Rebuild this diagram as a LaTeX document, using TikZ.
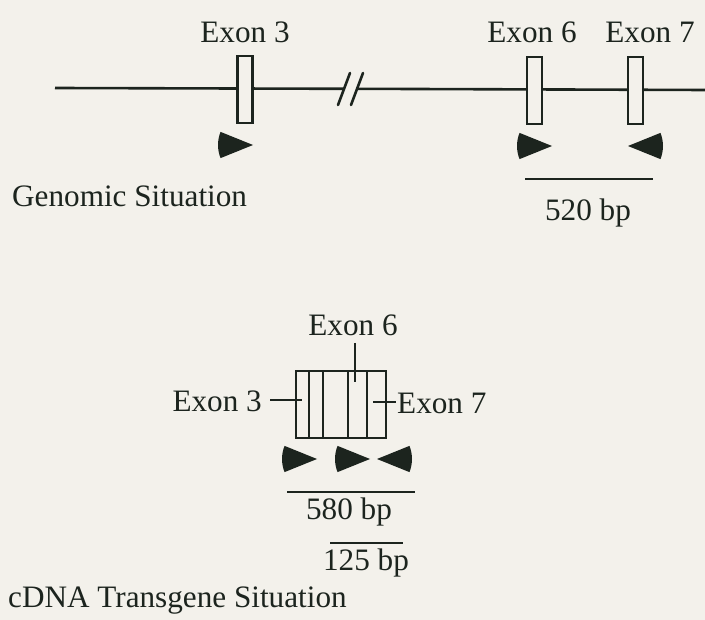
\documentclass[tikz,border=0pt]{standalone}
\usepackage{fontspec}
\setmainfont{Liberation Serif}
\definecolor{inkc}{RGB}{28,36,30}
\definecolor{paper}{RGB}{243,241,235}
\begin{document}
\begin{tikzpicture}[x=1pt,y=-1pt,
  dna/.style={draw=inkc,line width=2.6pt},
  exonbox/.style={draw=inkc,line width=2.4pt,fill=paper,minimum width=15pt,minimum height=67pt,inner sep=0pt},
  lbl/.style={text=inkc,font=\fontsize{31.2}{35}\selectfont,inner sep=0pt},
  primer/.pic={\fill[inkc] (0,0) -- (158:35) arc[start angle=158,end angle=202,radius=35] -- cycle;}
]
\useasboundingbox[fill=paper] (0,0) rectangle (705,620);
% genomic line
\coordinate (gL) at (55,88);
\coordinate (b1) at (344,88.8);
\coordinate (b2) at (356,88.8);
\coordinate (gR) at (705,90);
\draw[dna] (gL) -- (b1);
\draw[dna] (b2) -- (gR);
\draw[dna,line cap=round] (338,105) -- (350,73);
\draw[dna,line cap=round] (351,105) -- (363,73);
% exon boxes
\node[exonbox] (e3) at (245,89.5) {};
\node[exonbox] (e6) at (534.5,90.5) {};
\node[exonbox] (e7) at (635.5,90.5) {};
% labels
\node[lbl] (le3) at (245,32) {Exon 3};
\node[lbl] (le6) at (532,32) {Exon 6};
\node[lbl] (le7) at (650,32) {Exon 7};
% primers genomic
\pic at (253,145) {primer};
\pic at (552,146) {primer};
\pic[xscale=-1] at (628,146) {primer};
% 520 bp
\coordinate (s1a) at (525,179);
\coordinate (s1b) at (653,179);
\draw[dna] (s1a) -- (s1b);
\node[lbl] (t520) at (588,213) {520 bp};
\node[lbl,anchor=west] (gen) at (12,196) {Genomic Situation};
% cDNA
\node[exonbox,minimum width=90pt,minimum height=67pt] (cb) at (341,404.5) {};
\foreach \xx in {309,323,348,367}{\draw[dna,line width=2.4pt] (\xx,371) -- (\xx,438);}
\node[lbl] (ce6) at (353,325) {Exon 6};
\coordinate (p6a) at (355,343);
\coordinate (p6b) at (355,382);
\draw[dna] (p6a) -- (p6b);
\node[lbl,anchor=east] (ce3) at (262,401) {Exon 3};
\coordinate (p3a) at (270,400);
\coordinate (p3b) at (302,400);
\draw[dna] (p3a) -- (p3b);
\node[lbl,anchor=west] (ce7) at (397,403) {Exon 7};
\coordinate (p7a) at (373,402);
\coordinate (p7b) at (396,402);
\draw[dna] (p7a) -- (p7b);
\pic at (317,459) {primer};
\pic at (370,459) {primer};
\pic[xscale=-1] at (377,459) {primer};
\coordinate (s2a) at (287,492);
\coordinate (s2b) at (415,492);
\draw[dna] (s2a) -- (s2b);
\node[lbl] (t580) at (349,512) {580 bp};
\coordinate (s3a) at (330,543);
\coordinate (s3b) at (403,543);
\draw[dna] (s3a) -- (s3b);
\node[lbl] (t125) at (366,563) {125 bp};
\node[lbl,anchor=west] (cdna) at (8,601) {cDNA Transgene Situation};
\end{tikzpicture}
\end{document}
